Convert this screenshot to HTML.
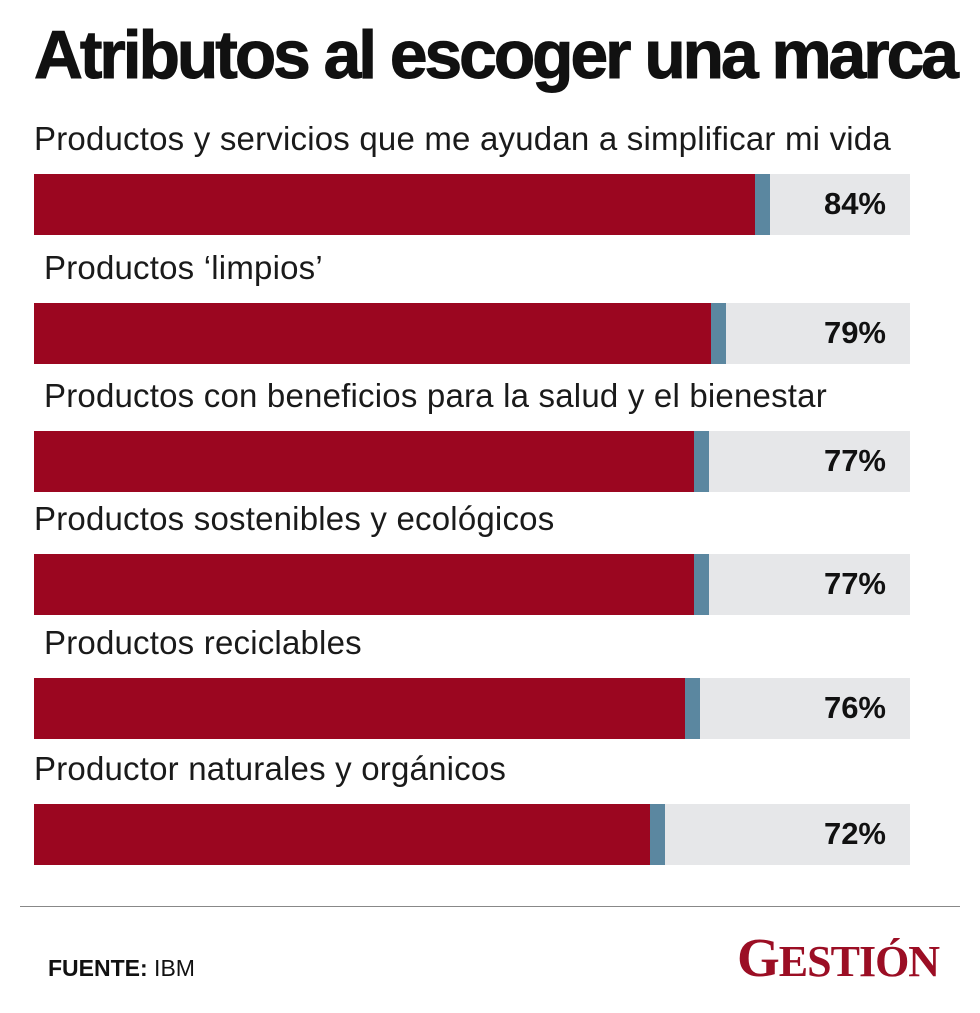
<!DOCTYPE html>
<html><head><meta charset="utf-8">
<style>
body{margin:0;width:980px;height:1013px;background:#fff;position:relative;overflow:hidden;font-family:"Liberation Sans",sans-serif}
#title{position:absolute;left:34px;top:16px;font-size:68px;font-weight:bold;letter-spacing:-3px;color:#111;white-space:nowrap;transform:scaleX(0.995);transform-origin:left top;font-family:"Liberation Sans Narrow","Liberation Sans",sans-serif;-webkit-text-stroke:1px #111}
.lbl{position:absolute;font-size:33px;color:#1a1a1a;white-space:nowrap;letter-spacing:0.2px}
.track{position:absolute;left:34px;width:876px;height:61px;background:#e6e7e9}
.red{position:absolute;left:0;top:0;height:100%;background:#9b0620}
.blue{position:absolute;top:0;height:100%;width:15px;background:#5b87a0}
.val{position:absolute;right:24px;top:12px;font-size:31px;font-weight:bold;color:#111}
#rule{position:absolute;left:20px;top:906px;width:940px;height:1px;background:#888}
#src{position:absolute;left:48px;top:955px;font-size:23px;color:#111}
#logo{position:absolute;left:737px;top:926px;font-family:"Liberation Serif",serif;font-weight:bold;color:#9b0e24;font-size:55px;letter-spacing:-1px;white-space:nowrap}
#logo small{font-size:44px}
</style></head><body>
<div id="title">Atributos al escoger una marca</div>
<div id="chart"></div>
<div id="rule"></div>
<div id="src"><b>FUENTE:</b> IBM</div>
<div id="logo">G<small>ESTIÓN</small></div>
<script>
const categories=["Productos y servicios que me ayudan a simplificar mi vida","Productos ‘limpios’","Productos con beneficios para la salud y el bienestar","Productos sostenibles y ecológicos","Productos reciclables","Productor naturales y orgánicos"];
const values=[84,79,77,77,76,72];
const valueLabels=["84%","79%","77%","77%","76%","72%"];
const barTops=[174,303,431,554,678,804];
const labelLefts=[34,44,44,34,44,34];
const W=876;
function x(v){return v/100*W;}
const chart=document.getElementById('chart');
categories.forEach((c,i)=>{
  const l=document.createElement('div');l.className='lbl';
  
  
  l.style.left=labelLefts[i]+'px';l.style.top=(barTops[i]-54)+'px';l.textContent=c;chart.appendChild(l);
  const t=document.createElement('div');t.className='track';
  
  
  t.style.top=barTops[i]+'px';
  const r=document.createElement('div');r.className='red';
  
  
  r.style.width=(x(values[i])-15)+'px';
  const b=document.createElement('div');b.className='blue';
  
  
  b.style.left=(x(values[i])-15)+'px';
  const v=document.createElement('div');v.className='val';
  
  
  v.textContent=valueLabels[i];
  t.appendChild(r);t.appendChild(b);t.appendChild(v);chart.appendChild(t);
});
</script>
</body></html>
